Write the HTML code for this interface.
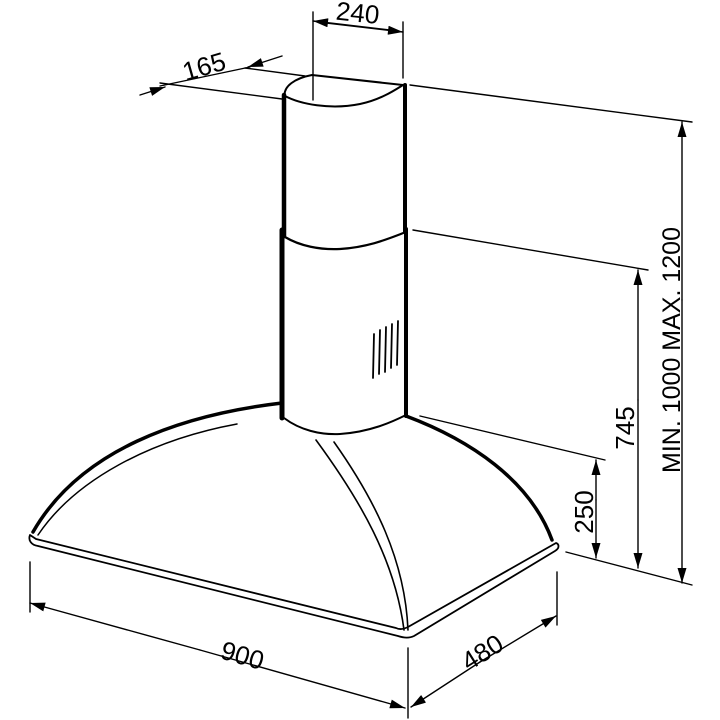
<!DOCTYPE html>
<html><head><style>html,body{margin:0;padding:0;background:#fff}svg{display:block}</style></head>
<body>
<svg width="720" height="720" viewBox="0 0 720 720" xmlns="http://www.w3.org/2000/svg">
<defs>
<marker id="a" viewBox="0 0 10 6" refX="10" refY="3" markerWidth="18" markerHeight="9" markerUnits="userSpaceOnUse" orient="auto"><path d="M0,0 L10,3 L0,6 Z" fill="#000"/></marker>
</defs>
<g fill="none" stroke="#000" stroke-linecap="round" stroke-linejoin="round">
<path d="M285 98 C282 86 296 78 312 75 L403 85" stroke-width="2"/>
<path d="M285 96 C300 104 330 110 360 104 C380 100 395 90 403 85" stroke-width="2"/>
<line x1="284" y1="95" x2="284" y2="236" stroke-width="4.5"/>
<line x1="405" y1="85" x2="405" y2="232" stroke-width="4"/>
<path d="M285 237 C300 246 320 250 340 249 C370 247 390 238 406 232" stroke-width="2.2"/>
<line x1="282" y1="230" x2="282" y2="418" stroke-width="5"/>
<line x1="406" y1="229" x2="406" y2="416" stroke-width="4"/>
<path d="M284 418 C300 430 320 435 340 434 C370 432 392 422 406 415" stroke-width="2"/>
<g stroke-width="1.8">
<path d="M374 334 L373 378"/><path d="M380 330 L379 374"/><path d="M386 327 L385 372"/><path d="M392 324 L391 368"/><path d="M398 321 L397 365"/>
</g>
<path d="M282 403 C180 415 80 450 33 532" stroke-width="3.5"/>
<path d="M237 424 C150 440 75 480 38 535" stroke-width="1.5"/>
<path d="M406 416 C470 440 530 480 552 540" stroke-width="3.5"/>
<path d="M30 535 C28 540 31 545 38 546 L398 636 C404 638 410 638 414 636 L555 551 C560 548 559 544 556 543 L408 627 C404 629 400 630 396 628 L36 539 Z" stroke-width="1.8"/>
<path d="M316 440 C360 500 395 560 404 630" stroke-width="1.6"/>
<path d="M334 442 C375 500 405 560 408 630" stroke-width="1.6"/>
<g stroke-width="1.4">
<line x1="313" y1="12" x2="313" y2="100"/>
<line x1="403" y1="22" x2="403" y2="78"/>
<line x1="410" y1="85" x2="692" y2="122"/>
<line x1="413" y1="230" x2="648" y2="270"/>
<line x1="420" y1="416" x2="605" y2="460"/>
<line x1="566" y1="552" x2="692" y2="585"/>
<line x1="160" y1="83" x2="282" y2="99"/>
<line x1="245" y1="68" x2="305" y2="76"/>
<line x1="30" y1="562" x2="30" y2="612"/>
<line x1="408" y1="648" x2="408" y2="718"/>
<line x1="557" y1="572" x2="557" y2="625"/>
</g>
<g stroke-width="1.4">
<line x1="318" y1="22" x2="403" y2="32" marker-end="url(#a)"/>
<line x1="398" y1="31" x2="313" y2="21" marker-end="url(#a)"/>
<line x1="140" y1="95" x2="165" y2="87" marker-end="url(#a)"/>
<line x1="282" y1="56" x2="248" y2="67" marker-end="url(#a)"/>
<line x1="160" y1="86" x2="250" y2="67"/>
<line x1="682" y1="300" x2="682" y2="122" marker-end="url(#a)"/>
<line x1="682" y1="300" x2="682" y2="583" marker-end="url(#a)"/>
<line x1="638" y1="400" x2="638" y2="270" marker-end="url(#a)"/>
<line x1="638" y1="400" x2="638" y2="568" marker-end="url(#a)"/>
<line x1="596" y1="500" x2="596" y2="460" marker-end="url(#a)"/>
<line x1="596" y1="500" x2="596" y2="558" marker-end="url(#a)"/>
<line x1="200" y1="650" x2="30" y2="603" marker-end="url(#a)"/>
<line x1="200" y1="650" x2="405" y2="708" marker-end="url(#a)"/>
<line x1="480" y1="662" x2="411" y2="707" marker-end="url(#a)"/>
<line x1="480" y1="662" x2="556" y2="616" marker-end="url(#a)"/>
</g>
</g>
<g font-family="Liberation Sans, sans-serif" font-size="26" fill="#000">
<text x="336" y="22" transform="rotate(6 360 14)">240</text>
<text x="182" y="75" transform="rotate(-16 205 65)">165</text>
<text transform="translate(680 350) rotate(-90)" text-anchor="middle" font-size="25">MIN. 1000  MAX. 1200</text>
<text transform="translate(634 428) rotate(-90)" text-anchor="middle">745</text>
<text transform="translate(593 512) rotate(-90)" text-anchor="middle">250</text>
<text transform="translate(240 664) rotate(16)" text-anchor="middle">900</text>
<text transform="translate(487 660) rotate(-32)" text-anchor="middle">480</text>
</g>
</svg>
</body></html>
